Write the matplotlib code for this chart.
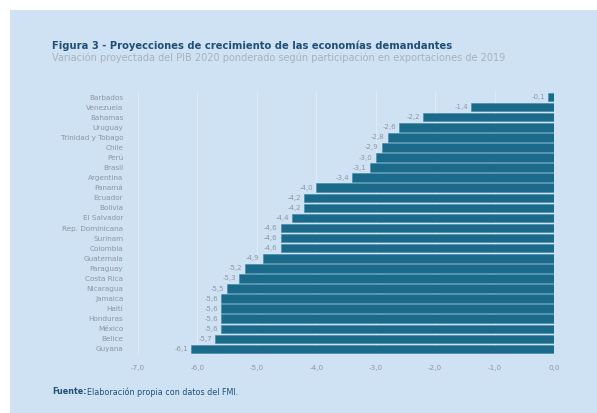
import matplotlib
matplotlib.use("Agg")
import matplotlib.pyplot as plt

# data
paises = ["Barbados", "Venezuela", "Bahamas", "Uruguay", "Trinidad y Tobago", "Chile",
          "Perú", "Brasil", "Argentina", "Panamá", "Ecuador", "Bolivia", "El Salvador",
          "Rep. Dominicana", "Surinam", "Colombia", "Guatemala", "Paraguay", "Costa Rica",
          "Nicaragua", "Jamaica", "Haití", "Honduras", "México", "Belice", "Guyana"]
variacion = [-0.1, -1.4, -2.2, -2.6, -2.8, -2.9, -3.0, -3.1, -3.4, -4.0, -4.2, -4.2, -4.4,
             -4.6, -4.6, -4.6, -4.9, -5.2, -5.3, -5.5, -5.6, -5.6, -5.6, -5.6, -5.7, -6.1]
ticks_x = [-7.0, -6.0, -5.0, -4.0, -3.0, -2.0, -1.0, 0.0]

W, H = 597, 413
fondo = "#cfe2f3"
barra = "#1b6a89"
gris = "#8c96a3"
azul = "#1f4f7a"
plt.rcParams['font.family'] = ['DejaVu Sans']

fig = plt.figure(figsize=(W / 100, H / 100), dpi=100)
fig.patch.set_facecolor("white")
# light blue panel with white margin top/left
bg = fig.add_axes([10 / W, 0, 1 - 10 / W, (H - 10) / H], zorder=0)
bg.axis("off")
bg.add_patch(plt.Rectangle((0, 0), 1, 1, transform=bg.transAxes, color=fondo))

ax = fig.add_axes([126 / W, (H - 354) / H, (554 - 126) / W, 262 / H], zorder=1)
ax.set_facecolor("none")
y = list(range(len(paises)))
ax.barh(y, variacion, height=0.84, color=barra, edgecolor="#3d8aa8", linewidth=0.4, zorder=2)
for yi, v in zip(y, variacion):
    ax.text(v - 0.05, yi, f"{v:.1f}".replace(".", ","), ha="right", va="center",
            fontsize=5, color=gris, zorder=3)

ax.set_xlim(-7.2, 0.0)
ax.set_ylim(len(paises) - 0.5, -0.5)
ax.set_yticks(y)
ax.set_yticklabels(paises, fontsize=5.2, color=gris)
ax.set_xticks(ticks_x)
ax.set_xticklabels([f"{t:.1f}".replace(".", ",") for t in ticks_x], fontsize=5.2, color=gris)
ax.tick_params(length=0, pad=2)
ax.tick_params(axis="x", pad=8)
for t in ticks_x:
    ax.axvline(t, color="white", linewidth=0.6, alpha=0.4, zorder=1)
for s in ax.spines.values():
    s.set_visible(False)

fig.text(52 / W, 1 - 46 / H, "Figura 3 - Proyecciones de crecimiento de las economías demandantes",
         fontsize=7.2, fontweight="bold", color=azul, va="center", zorder=3)
fig.text(52 / W, 1 - 58 / H,
         "Variación proyectada del PIB 2020 ponderado según participación en exportaciones de 2019",
         fontsize=7.0, color="#a7b2bd", va="center", zorder=3)
fig.text(52 / W, 1 - 392 / H, "Fuente:", fontsize=5.8, fontweight="bold", color=azul,
         va="center", zorder=3)
fig.text(87 / W, 1 - 392 / H, "Elaboración propia con datos del FMI.", fontsize=5.8,
         color=azul, va="center", zorder=3)

fig.savefig("out.png", dpi=100, facecolor=fig.get_facecolor())
